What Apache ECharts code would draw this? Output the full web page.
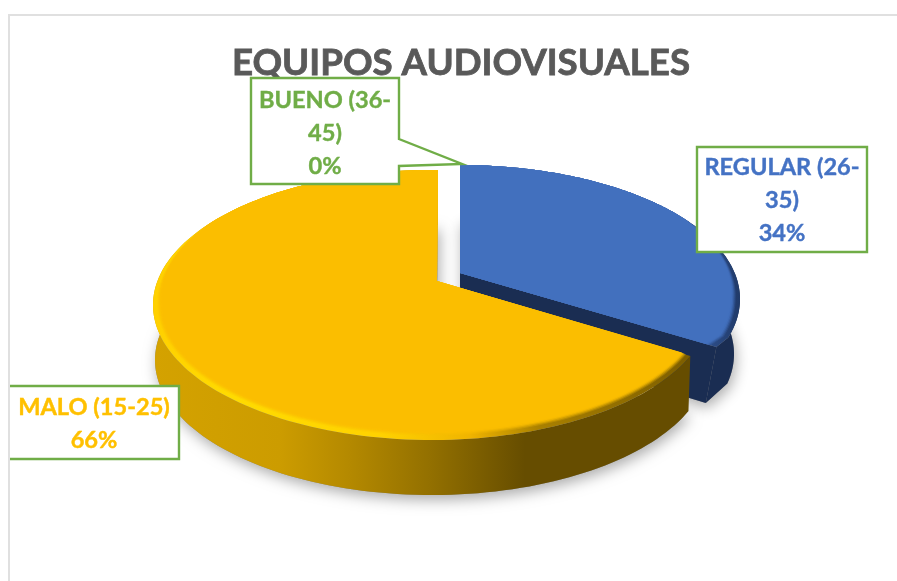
<!DOCTYPE html>
<html>
<head>
<meta charset="utf-8">
<style>html,body{margin:0;padding:0;background:#fff}#c{width:897px;height:581px}</style>
<script src="https://cdn.jsdelivr.net/npm/echarts@6/dist/echarts.min.js"></script>
</head>
<body>
<div id="c"></div>
<script>
var chartTitle = 'EQUIPOS AUDIOVISUALES';
var categories = ['REGULAR (26-35)', 'MALO (15-25)', 'BUENO (36-45)'];
var values = [34, 66, 0];

var FONT = 'Lato, "Open Sans", sans-serif';
var GREEN = '#70ad47';
var WARP = 0.8, STEPS = 160, BEVEL = 8;
var SOFT = [[0.55, 0.25], [0.7, 0.4], [0.85, 0.6], [1, 0.8], [1.15, 1]];
var G = echarts.graphic.LinearGradient;

function hgrad(x0, x1, stops) {
  return new G(x0, 0, x1, 0, stops.map(function (s) {
    return { offset: (s[0] - x0) / (x1 - x0), color: s[1] };
  }), true);
}

var looks = [
  { ex: 460, ey: 299, rx: 280, ry: 134, ax: 460, ay: 273, rot: 0,
    bx: 460, by: 354, brx: 274, chamfer: 10, topChamfer: 5,
    top: '#4270be', wall: '#1a2d52', cut: true,
    rim: hgrad(460, 740, [[460, '#4270be'], [640, '#3f69b4'], [710, '#2d4d88'], [740, '#203a69']]),
    color: '#4472c4' },
  { ex: 432, ey: 305, rx: 279, ry: 135, ax: 437, ay: 281, rot: 1.2 * Math.PI / 180,
    bx: 432, by: 360, brx: 277, chamfer: 0, topChamfer: 0,
    top: '#fbbe00', cut: false,
    wall: hgrad(153, 700, [[153, '#d4a200'], [280, '#cc9c00'], [350, '#b48900'], [430, '#937000'], [525, '#664d00'], [700, '#664d00']]),
    rim: hgrad(153, 700, [[153, '#ffd000'], [230, '#ffdb00'], [380, '#ffd200'], [470, '#f0b400'], [540, '#a98000'], [700, '#7a5c00']]),
    color: '#ffc000' },
  { color: GREEN }
];

var boxes = [
  { pts: [[697, 147], [867, 147], [867, 252], [697, 252]], closed: true, cx: 782, cy: 200, wrap: true },
  { pts: [[10, 386], [179, 386], [179, 459], [10, 459]], closed: false, cx: 94, cy: 424, wrap: false },
  { pts: [[251, 78], [399, 78], [399, 139], [462, 164], [399, 166], [399, 184], [251, 184]], closed: true, cx: 325, cy: 133, wrap: true }
];

function warp(theta) { return 2 * Math.atan2(WARP * Math.sin(theta / 2), Math.cos(theta / 2)); }

function arc(a0, a1, rot, fn) {
  var out = [];
  for (var i = 0; i <= STEPS; i++) {
    out.push(fn(warp(a0 + (a1 - a0) * i / STEPS) + rot));
  }
  return out;
}

function softenEnd(points, trim, dx, dy) {
  var last = points[points.length - 1];
  var kept = points.slice(0, points.length - trim);
  kept.push([last[0] - dx, last[1] + dy]);
  return kept;
}

var total = values.reduce(function (a, b) { return a + b; }, 0);

function renderItem(params, api) {
  var i = params.dataIndex, v = api.value(0), l = looks[i], kids = [];
  var before = 0;
  for (var k = 0; k < i; k++) before += values[k];
  if (v > 0) {
    var a0 = before / total * 2 * Math.PI, a1 = (before + v) / total * 2 * Math.PI;
    var ax = l.ax, ay = l.ay, depth = l.by - l.ey;
    var topArc = arc(a0, a1, l.rot, function (p) {
      return [l.ex + l.rx * Math.sin(p), l.ey - l.ry * Math.cos(p)];
    });
    var botArc = arc(a0, a1, l.rot, function (p) {
      return [l.bx + l.brx * Math.sin(p), l.by - l.ry * Math.cos(p)];
    });
    if (l.topChamfer) topArc = softenEnd(topArc, 5, l.topChamfer, 0);
    if (l.chamfer) botArc = softenEnd(botArc, 10, l.chamfer, 1);
    kids.push({ type: 'polygon', shape: { points: [[ax, ay + depth]].concat(botArc) },
      style: { fill: '#8a8a8a', shadowBlur: 14, shadowColor: 'rgba(0,0,0,0.32)', shadowOffsetY: 5, shadowOffsetX: 2 } });
    kids.push({ type: 'polygon', shape: { points: topArc.concat(botArc.slice().reverse()) }, style: { fill: l.wall } });
    if (l.cut) {
      var e = topArc[topArc.length - 1], b = botArc[botArc.length - 1];
      kids.push({ type: 'polygon', shape: { points: [[ax, ay], e, b, [ax, ay + depth]] }, style: { fill: l.wall } });
    }
    kids.push({ type: 'polygon', shape: { points: [[ax, ay]].concat(topArc) }, style: { fill: l.rim } });
    SOFT.forEach(function (layer) {
      var innerArc = arc(a0, a1, l.rot, function (p) {
        var c = Math.cos(p);
        var f = Math.min(1, Math.max(0, (0.6 - c) / 0.6)) * BEVEL * layer[0];
        return [l.ex + (l.rx - f) * Math.sin(p), l.ey - (l.ry - f) * c];
      });
      if (l.topChamfer) innerArc = softenEnd(innerArc, 5, l.topChamfer + 2, 0);
      kids.push({ type: 'polygon', shape: { points: [[ax, ay]].concat(innerArc) },
        style: { fill: l.top, opacity: layer[1] } });
    });
  }
  var bx = boxes[i];
  var name = categories[i];
  var label = (bx.wrap ? name.replace('-', '-\n') : name) + '\n' + Math.round(v / total * 100) + '%';
  kids.push({ type: 'polygon', shape: { points: bx.pts }, style: { fill: '#fff' } });
  kids.push({ type: bx.closed ? 'polygon' : 'polyline', shape: { points: bx.pts },
    style: { fill: bx.closed ? '#fff' : 'none', stroke: GREEN, lineWidth: 2.4 } });
  kids.push({ type: 'text', style: { text: label, x: bx.cx, y: bx.cy, fill: l.color,
    font: 'bold 23.6px ' + FONT, lineHeight: 33, align: 'center', verticalAlign: 'middle',
    stroke: l.color, lineWidth: 0.4 } });
  return { type: 'group', children: kids };
}

var chart = echarts.init(document.getElementById('c'), null, { renderer: 'canvas' });
chart.setOption({
  animation: false,
  backgroundColor: '#fff',
  title: { text: chartTitle, left: 456, top: 40, textAlign: 'center', z: 1,
    textStyle: { color: '#595959', fontSize: 36.7, fontWeight: 'bold', fontFamily: FONT,
      textBorderColor: '#595959', textBorderWidth: 0.8 } },
  graphic: [{ type: 'polyline', z: 0, shape: { points: [[9, 581], [9, 15], [897, 15]] },
    style: { stroke: '#e0e0e0', lineWidth: 2, fill: 'none' }, silent: true }],
  series: [{
    type: 'custom', coordinateSystem: 'none', z: 3, silent: true,
    renderItem: renderItem,
    data: values.map(function (v, i) { return { name: categories[i], value: [v] }; })
  }]
});
</script>
</body>
</html>
